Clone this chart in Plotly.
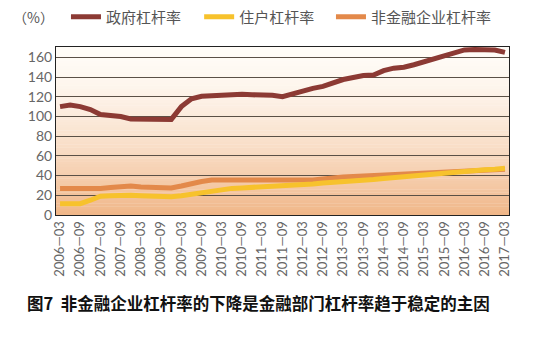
import plotly.graph_objects as go

quarters = [f"{y}—{m}" for y in range(2006, 2018) for m in ("03", "06", "09", "12")][:45]

gov = [110, 111.5, 110, 107, 102, 101.5, 100, 97.5, 97.5, 97, 96.5, 97,
       110, 118, 120.5, 121, 122, 122.5, 122.5, 122, 122, 121.5, 120, 123,
       126, 128.5, 130.5, 134, 137.5, 139.5, 141.5, 142, 146.5, 149, 150, 152.5,
       155.5, 158, 160.5, 164.5, 167.5, 168, 167.5, 167.5, 165]
household = [11.5, 11.5, 11.5, 15, 19, 19.5, 20, 20, 19.5, 19, 19, 18.5,
             19.5, 21, 23, 24.5, 26, 27, 27.5, 28, 28, 28.5, 29, 29.5,
             30.5, 31.5, 32.5, 33, 34, 35, 35.5, 36, 37, 38, 38.5, 39.5,
             40, 41, 42, 43.5, 44.5, 45, 46, 46.5, 47.5]
nonfin = [27, 27, 26.5, 26.5, 27, 28, 29, 29.5, 28.5, 28, 27.5, 27.5,
          29.5, 32, 34, 35.5, 35.5, 35, 34.5, 34.5, 34.5, 34.5, 34.5, 35,
          35, 35.5, 36.5, 38, 38.5, 39, 39.5, 40, 40.5, 41, 41.5, 42,
          42.5, 43, 43.5, 44, 44.5, 45, 45.5, 46, 46.5]
names = ["政府杠杆率", "住户杠杆率", "非金融企业杠杆率"]
colors = ["#8c3a34", "#f7c22c", "#e3894a"]
ytickvals = [0, 20, 40, 60, 80, 100, 120, 140, 160]
caption = "图7  非金融企业杠杆率的下降是金融部门杠杆率趋于稳定的主因"

xs = list(range(len(quarters)))
fig = go.Figure()
# draw order: gov, nonfin, household (household on top); each in its own legend box
for name, vals, col, leg in [(names[0], gov, colors[0], "legend"),
                             (names[2], nonfin, colors[2], "legend3"),
                             (names[1], household, colors[1], "legend2")]:
    fig.add_trace(go.Scatter(x=xs, y=vals, name=name, mode="lines", legend=leg,
                             line=dict(color=col, width=5, shape="linear")))

# gradient background strips
shapes = []
n = 60
top = (255, 252, 247)
bot = (240, 182, 136)
for i in range(n):
    t = (i + 0.5) / n
    f = t ** 1.6
    c = tuple(int(round(top[k] + (bot[k] - top[k]) * f)) for k in range(3))
    shapes.append(dict(type="rect", xref="paper", yref="paper",
                       x0=0, x1=1, y0=1 - (i + 1) / n, y1=1 - i / n + 0.002,
                       fillcolor=f"rgb{c}", line=dict(width=0), layer="below"))

def leg(x):
    return dict(orientation="h", x=x, y=1 - 17 / 340, yref="container",
                xanchor="left", yanchor="middle",
                font=dict(size=15, color="#555", family="Noto Sans CJK SC"),
                itemwidth=30, bgcolor="rgba(0,0,0,0)")

fig.update_layout(
    width=555, height=340,
    margin=dict(l=56, r=46, t=40, b=125),
    paper_bgcolor="white", plot_bgcolor="rgba(0,0,0,0)",
    font=dict(family="Lato, Noto Sans CJK SC, sans-serif", color="#555"),
    shapes=shapes,
    showlegend=True,
    legend=leg(0.022), legend2=leg(0.316), legend3=leg(0.607),
    annotations=[
        dict(text="（%）", xref="paper", yref="paper", x=-0.1, y=1.175,
             xanchor="left", yanchor="middle", showarrow=False,
             font=dict(size=14, color="#555", family="Noto Sans CJK SC")),
        dict(text=caption, xref="paper", yref="paper", x=-0.068, y=-0.52,
             xanchor="left", yanchor="middle", showarrow=False,
             font=dict(size=16.5, color="#111", family="Noto Sans CJK SC", weight="bold")),
    ],
)
fig.update_xaxes(range=[-0.4, 44.4], tickmode="array", tickvals=xs[::2],
                 ticktext=quarters[::2], tickangle=-90, showgrid=False,
                 showline=True, linecolor="#222", linewidth=1, mirror=True,
                 ticks="", tickfont=dict(size=13, color="#666"), zeroline=False)
fig.update_yaxes(range=[0, 171], tickmode="array", tickvals=ytickvals,
                 showgrid=True, gridcolor="#5a5046", gridwidth=1,
                 showline=True, linecolor="#222", linewidth=1, mirror=True,
                 ticks="", tickfont=dict(size=14, color="#666"), zeroline=False)

fig.write_html("out.html")
